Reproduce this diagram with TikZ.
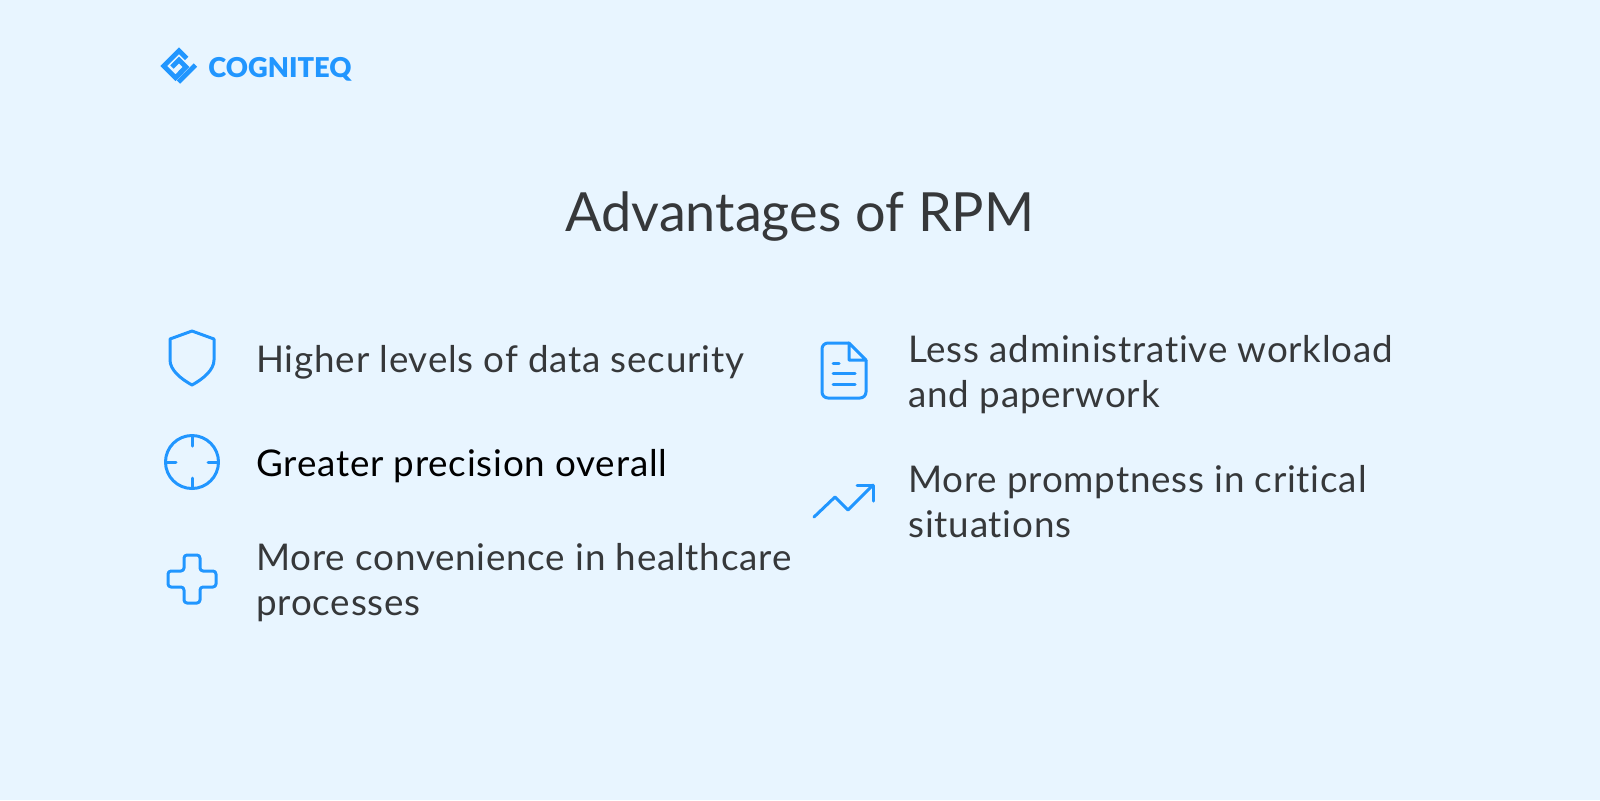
\documentclass[tikz,border=0pt]{standalone}
\usepackage{fontspec}
\setmainfont{Lato}[Ligatures=NoCommon]
\newfontfamily\itemfont{Lato}[Ligatures=NoCommon, LetterSpace=2.1]
\newfontfamily\brandfont{Lato Black}
\definecolor{pagebg}{HTML}{E8F5FF}
\definecolor{iconblue}{HTML}{2196FF}
\definecolor{bodygrey}{HTML}{36383A}
\tikzset{
  icon/.style={draw=iconblue, line width=1.5pt, line cap=round, line join=round},
  logomark/.style={draw=iconblue, line width=2.4pt, line join=miter},
  item/.style={anchor=west, align=left, inner sep=0pt, text=bodygrey,
    font=\itemfont\fontsize{18.4}{22.5}\selectfont},
}
\begin{document}
\begin{tikzpicture}[x=0.5pt, y=-0.5pt]
    % Page
    \fill[pagebg] (0,0) rectangle (1600,800);
    \useasboundingbox (0,0) rectangle (1600,800);
    % Logo
    \draw[logomark] (186.7,58.5) -- (179,50.8) -- (163.8,66) -- (175.5,77.7) -- (182,71.2);
    \draw[logomark] (172,67) -- (179,60) -- (186,67) -- (180,73);
    \draw[logomark] (195.5,65) -- (178.5,82);
    \node[anchor=west, inner sep=0pt, text=iconblue, font=\brandfont\fontsize{13.65}{16}\selectfont] (brand) at (208,69) {COGNITEQ};
    % Title
    \node[inner sep=0pt, text=bodygrey, font=\fontsize{27}{32}\selectfont] (title) at (800,217) {Advantages of RPM};
    % Left column
    \node[item] (security) at (256,362) {Higher levels of data security};
    \node[item, text=black] (precision) at (256,466) {Greater precision overall};
    \node[item] (convenience) at (256,583) {More convenience in healthcare\\processes};
    % Right column
    \node[item] (workload) at (908,374.5) {Less administrative workload\\and paperwork};
    \node[item] (promptness) at (908,502) {More promptness in critical\\situations};
    % Shield
    \draw[icon] (192,331) -- (214,339) -- (214,360)
        .. controls (214,370) and (203,379) .. (192,385)
        .. controls (181,379) and (170,370) .. (170,360) -- (170,339) -- cycle;
    % Target
    \draw[icon] (192,462) circle (26.5);
    \draw[icon] (192,436) -- (192,446);
    \draw[icon] (192,478) -- (192,488);
    \draw[icon] (166,462) -- (176,462);
    \draw[icon] (208,462) -- (218,462);
    % Cross
    \draw[icon, rounded corners=1.5pt] (184,555) -- (200,555) -- (200,571) -- (216,571)
        -- (216,587) -- (200,587) -- (200,603) -- (184,603) -- (184,587) -- (168,587)
        -- (168,571) -- (184,571) -- cycle;
    % Document
    \draw[icon, rounded corners=3pt] (849,343) -- (822,343) -- (822,398) -- (866,398) -- (866,360);
    \draw[icon] (849,343) -- (866,360) -- (849,360) -- cycle;
    \draw[icon] (833,363) -- (839,363);
    \draw[icon] (833,373) -- (855,373);
    \draw[icon] (833,384) -- (855,384);
    % Trend
    \draw[icon] (814,517) -- (835,497) -- (848,510) -- (873,485);
    \draw[icon] (857,485) -- (873,485) -- (873,501);
\end{tikzpicture}
\end{document}
